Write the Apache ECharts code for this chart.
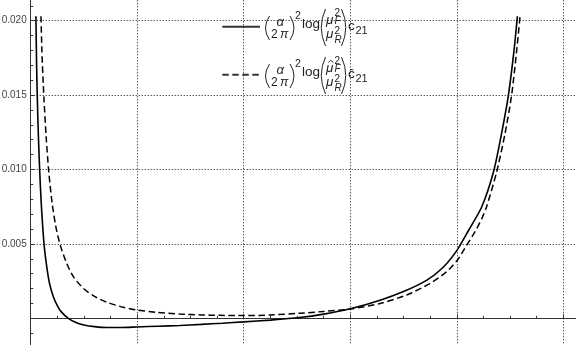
<!DOCTYPE html>
<html style="height: 100%">
<head>
    <meta charset="utf-8">
    <title>c21 log plot</title>
    <script type="text/javascript" src="https://cdn.jsdelivr.net/npm/echarts@6.0.0/dist/echarts.min.js"></script>
</head>
<body style="width: 100%;margin: 0;height: 100%">
<div id="container" style="width: 576px;height: 345px"></div>

<script type="application/javascript">

    // solid curve
    var xSolid = [0.0098, 0.0110, 0.0125, 0.0145, 0.0169, 0.020, 0.025, 0.030, 0.035, 0.0425, 0.050, 0.057,
        0.0706, 0.086, 0.100, 0.120, 0.143, 0.170, 0.200, 0.240, 0.280, 0.320, 0.360, 0.400, 0.450, 0.505,
        0.550, 0.600, 0.656, 0.700, 0.744, 0.775, 0.801, 0.822, 0.847, 0.869, 0.884, 0.897, 0.9075, 0.9138];
    var ySolid = [0.0203, 0.0172, 0.0147, 0.0122, 0.0099, 0.0076, 0.0050, 0.0035, 0.0024, 0.00145, 0.00085, 0.00045,
        0.0000, -0.0003, -0.00045, -0.00056, -0.00062, -0.00062, -0.00058, -0.00053, -0.00048, -0.00041, -0.00033, -0.00024, -0.00012, 0.00005,
        0.00028, 0.00064, 0.00122, 0.0018, 0.00257, 0.00345, 0.0046, 0.0059, 0.0075, 0.00985, 0.0124, 0.0150, 0.0180, 0.0203];

    // dashed curve
    var xDashed = [0.0193, 0.021, 0.023, 0.025, 0.029, 0.0338, 0.040, 0.047, 0.0556, 0.0675, 0.080, 0.099, 0.1175,
        0.143, 0.174, 0.200, 0.237, 0.280, 0.320, 0.355, 0.400, 0.450, 0.505, 0.550, 0.600, 0.656, 0.706, 0.750,
        0.781, 0.801, 0.815, 0.834, 0.847, 0.856, 0.875, 0.8905, 0.903, 0.9125, 0.9188];
    var yDashed = [0.0203, 0.0180, 0.0162, 0.0147, 0.0122, 0.0099, 0.0078, 0.0062, 0.0049, 0.0037, 0.0028, 0.0020, 0.00152,
        0.00108, 0.00074, 0.00056, 0.0004, 0.00029, 0.00023, 0.0002, 0.00018, 0.00022, 0.00034, 0.00046, 0.00062, 0.001, 0.00157, 0.00235,
        0.00313, 0.0039, 0.0047, 0.0058, 0.0067, 0.0075, 0.00985, 0.0124, 0.0150, 0.0180, 0.0203];

    function pairs(xs, ys) {
        var out = [];
        for (var i = 0; i < xs.length; i++) {
            out.push([xs[i], ys[i]]);
        }
        return out;
    }

    var FONT = '"Liberation Sans", Arial, sans-serif';
    var INK = '#222';

    function txt(s, x, y, size, italic) {
        return {
            type: 'text', x: x, y: y, z: 100,
            style: {
                text: s, fill: INK, verticalAlign: 'middle', align: 'left',
                font: (italic ? 'italic ' : '') + size + 'px ' + FONT
            }
        };
    }

    function paren(x0, y0, y1, cx) {
        return {
            type: 'bezierCurve', z: 100,
            shape: {x1: x0, y1: y0, x2: x0, y2: y1, cpx1: cx, cpy1: (y0 + y1) / 2},
            style: {stroke: INK, lineWidth: 1, fill: null}
        };
    }

    // one legend row, dy = vertical offset, hat = second entry
    function legendRow(dy, dashed, hat) {
        var els = [];
        els.push({
            type: 'line', z: 100,
            shape: {x1: 222.3, y1: 26.7 + dy, x2: 260, y2: 26.7 + dy},
            style: {stroke: '#333', lineWidth: 2, lineDash: dashed ? [6.5, 3.5] : null}
        });
        els.push(paren(269.5, 16 + dy, 40 + dy, 261.5));
        els.push(txt('α', 276.5, 22 + dy, 13, true));
        els.push(txt('2', 271, 34.7 + dy, 12, false));
        els.push(txt('π', 280, 34.7 + dy, 12.5, true));
        els.push(paren(290, 16 + dy, 40 + dy, 298));
        els.push(txt('2', 295, 15.9 + dy, 10.5, false));
        els.push(txt('log', 302, 23.8 + dy, 13.5, false));
        els.push(paren(325.5, 9 + dy, 46 + dy, 317));
        els.push(txt('μ', 326, 20.3 + dy, 13.5, true));
        if (hat) {
            els.push({
                type: 'polyline', z: 100,
                shape: {points: [[328.3, 14.6 + dy], [330.8, 12.2 + dy], [333.3, 14.6 + dy]]},
                style: {stroke: INK, lineWidth: 0.9, fill: null}
            });
        }
        els.push(txt('2', 334.5, 13 + dy, 10, false));
        els.push(txt('F', 334.5, 21.5 + dy, 10, true));
        els.push(txt('μ', 326, 33.8 + dy, 13.5, true));
        els.push(txt('2', 334.5, 31 + dy, 10, false));
        els.push(txt('R', 334.5, 40.5 + dy, 10, true));
        els.push(paren(341.5, 9 + dy, 46 + dy, 350));
        els.push(txt(hat ? 'ĉ' : 'c', 348, 26.3 + dy, 13.5, false));
        els.push(txt('21', 355.5, 30.7 + dy, 11, false));
        return els;
    }

    var axisColor = '#333';
    var gridLine = {show: true, lineStyle: {color: '#111', width: 1, type: [1, 2]}};

    var option = {
        animation: false,
        grid: {left: 30.7, right: -93.8, top: -53.7, bottom: -47.7, containLabel: false, outerBoundsMode: 'none'},
        xAxis: {
            type: 'value', min: 0, max: 1.2, interval: 0.2,
            axisLine: {onZero: true, lineStyle: {color: axisColor, width: 1}},
            axisTick: {inside: true, length: 4, lineStyle: {color: axisColor}},
            minorTick: {show: true, splitNumber: 4, length: 2.5, lineStyle: {color: axisColor}},
            axisLabel: {
                margin: 5, fontSize: 10, color: '#444', fontFamily: FONT,
                formatter: function (v) { return (v === 0 || v > 1.01) ? '' : v.toFixed(1); }
            },
            splitLine: gridLine
        },
        yAxis: {
            type: 'value', min: -0.005, max: 0.025, interval: 0.005,
            axisLine: {onZero: true, lineStyle: {color: axisColor, width: 1}},
            axisTick: {inside: true, length: 4, lineStyle: {color: axisColor}},
            minorTick: {show: true, splitNumber: 5, length: 2.5, lineStyle: {color: axisColor}},
            axisLabel: {
                margin: 4, fontSize: 10, color: '#444', fontFamily: FONT,
                formatter: function (v) { return (Math.abs(v) < 1e-9 || v < 0 || v > 0.0201) ? '' : v.toFixed(3); }
            },
            splitLine: gridLine
        },
        series: [
            {
                type: 'line', data: pairs(xSolid, ySolid), showSymbol: false, symbol: 'none',
                smooth: 0.25,
                lineStyle: {color: '#000', width: 1.6}
            },
            {
                type: 'line', data: pairs(xDashed, yDashed), showSymbol: false, symbol: 'none',
                smooth: 0.25,
                lineStyle: {color: '#000', width: 1.5, type: [6.5, 3.5]}
            }
        ],
        graphic: legendRow(0, false, false).concat(legendRow(48, true, true))
    };

    var dom = document.getElementById("container");
    var myChart = echarts.init(dom);
    myChart.setOption(option);
</script>
</body>
</html>
